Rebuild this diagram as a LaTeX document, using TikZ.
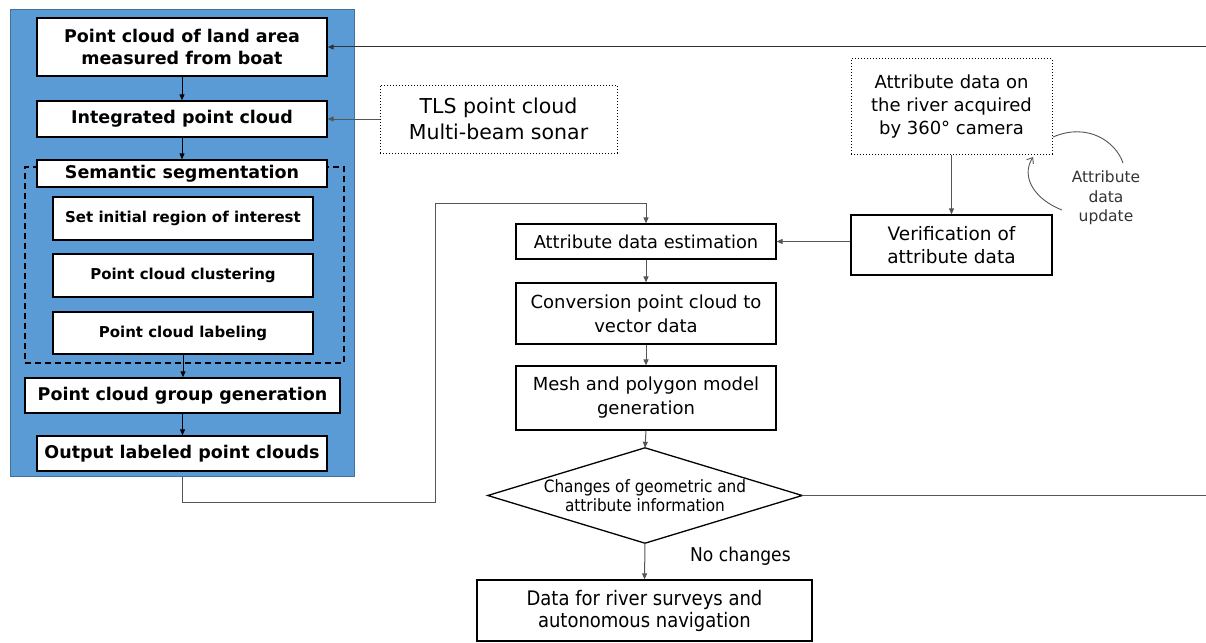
\documentclass[tikz,border=0pt]{standalone}
\usepackage{fontspec}
\setmainfont{DejaVu Sans}
\newfontfamily\condfont{DejaVu Sans Condensed}
\usetikzlibrary{arrows.meta}
\definecolor{panelblue}{HTML}{5B9BD5}
\definecolor{paneledge}{HTML}{41719C}
\definecolor{linegray}{HTML}{555555}
\begin{document}
\begin{tikzpicture}[x=1pt,y=-1pt,
  lbox/.style={draw=black, line width=1.3pt, fill=white, align=center, inner sep=0pt,
    font=\bfseries\fontsize{17.5}{22.5}\selectfont},
  sbox/.style={draw=black, line width=1.3pt, fill=white, align=center, inner sep=0pt,
    font=\bfseries\fontsize{15}{18}\selectfont},
  rbox/.style={draw=black, line width=1.2pt, fill=white, align=center, inner sep=0pt,
    font=\fontsize{18}{24}\selectfont},
  dotbox/.style={draw=black, line width=1pt, dotted, fill=white, align=center, inner sep=0pt},
  arr/.style={line width=1pt, -{Triangle[length=6pt,width=5pt]}},
  garr/.style={draw=linegray, line width=1pt, -{Triangle[length=6pt,width=5pt]}},
]
\path[use as bounding box] (0,0) rectangle (1206,642);

% left blue panel
\node[draw=paneledge, fill=panelblue, line width=1pt, minimum width=344, minimum height=466, inner sep=0pt] (panel) at (182,243) {};
\node[lbox, minimum width=290, minimum height=58] (b1) at (182,47) {Point cloud of land area\\measured from boat};
\node[lbox, minimum width=290, minimum height=36] (b2) at (182,119) {Integrated point cloud};
\node[draw=black, line width=1.2pt, dash pattern=on 6pt off 4pt, minimum width=319, minimum height=196, inner sep=0pt] (seg) at (184.5,265) {};
\node[lbox, minimum width=290, minimum height=27] (b3) at (182,173.5) {Semantic segmentation};
\node[sbox, minimum width=260, minimum height=43] (s1) at (183,218.5) {Set initial region of interest};
\node[sbox, minimum width=260, minimum height=43] (s2) at (183,275.5) {Point cloud clustering};
\node[sbox, minimum width=260, minimum height=42] (s3) at (183,333) {Point cloud labeling};
\node[lbox, minimum width=315, minimum height=35] (b4) at (182.5,395.5) {Point cloud group generation};
\node[lbox, minimum width=290, minimum height=35] (b5) at (182,453.5) {Output labeled point clouds};

\draw[arr] (b1.south) -- (b2.north);
\draw[arr] (b2.south) -- (b3.north);
\draw[arr] (s3.south) -- (s3.south |- b4.north);
\draw[arr] (b4.south) -- (b4.south |- b5.north);

% TLS
\node[dotbox, minimum width=237, minimum height=68, font=\fontsize{20.5}{26}\selectfont] (tls) at (498.5,119) {TLS point cloud\\Multi-beam sonar};
\draw[garr] (tls.west) -- (b2.east);

% top return line
\coordinate (topend) at (1206,47);
\draw[arr, draw=black!80] (topend) -- (b1.east);

% attribute data boxes
\node[dotbox, minimum width=201, minimum height=95, font=\fontsize{18}{23}\selectfont] (attr) at (951.5,106.5) {Attribute data on\\the river acquired\\by 360° camera};
\node[rbox, minimum width=201, minimum height=60, line width=1.3pt, font=\fontsize{18.5}{23}\selectfont] (verif) at (951.5,245) {Verification of\\attribute data};
\draw[garr] (attr.south) -- (verif.north);

% update curves
\coordinate (u1) at (1053,137);
\coordinate (u2) at (1123,163);
\coordinate (u3) at (1062,210);
\coordinate (u4) at (1033,157);
\draw[linegray, line width=0.9pt] (u1) .. controls (1088,122) and (1116,142) .. (u2);
\draw[linegray, line width=0.9pt, -{Straight Barb[length=5pt,width=8pt]}] (u3) .. controls (1036,200) and (1020,178) .. (u4);
\node[align=center, text=black!80, inner sep=0pt, font=\fontsize{15.5}{19.5}\selectfont] (upd) at (1106,198) {Attribute\\data\\update};

% main column
\node[rbox, minimum width=260, minimum height=35, font=\fontsize{17.8}{22}\selectfont] (est) at (646,241.5) {Attribute data estimation};
\node[rbox, minimum width=260, minimum height=61] (conv) at (646,313.5) {Conversion point cloud to\\vector data};
\node[rbox, minimum width=260, minimum height=64] (mesh) at (646,398) {Mesh and polygon model\\generation};
\node[minimum width=314, minimum height=95, inner sep=0pt, align=center, font=\condfont\fontsize{17}{19.5}\selectfont] (dia) at (645,495.5) {Changes of geometric and\\attribute information};
\draw[line width=1.3pt] (dia.west) -- (dia.north) -- (dia.east) -- (dia.south) -- cycle;
\node[rbox, line width=1.3pt, minimum width=335, minimum height=61, font=\condfont\fontsize{20}{22}\selectfont] (final) at (644.5,610.5) {Data for river surveys and\\autonomous navigation};

\draw[garr] (verif.west |- est.east) -- (est.east);
\draw[garr] (est.south) -- (conv.north);
\draw[garr] (conv.south) -- (mesh.north);
\draw[garr] (mesh.south) -- (dia.north);
\draw[garr] (dia.south) -- (final.north);
\node[anchor=west, inner sep=0pt, font=\condfont\fontsize{19}{20}\selectfont] (nochg) at (690,556) {No changes};

\coordinate (rightend) at (1206,495.5);
\draw[linegray, line width=1pt] (dia.east) -- (rightend);

% loop from left panel to estimation
\coordinate (c1) at (183,502);
\coordinate (c2) at (435,502);
\coordinate (c3) at (435,203);
\draw[garr] (b5.south |- panel.south) -- (b5.south |- c1) -- (c2) -- (c3) -| (est.north);
\end{tikzpicture}
\end{document}
